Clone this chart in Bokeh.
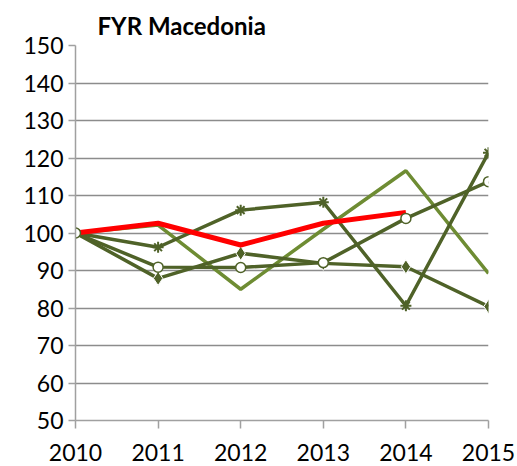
from bokeh.plotting import figure
from bokeh.embed import file_html
from bokeh.resources import INLINE
from bokeh.models import FixedTicker, Range1d

years = [2010, 2011, 2012, 2013, 2014, 2015]
red_years = [2010, 2011, 2012, 2013, 2014]
red_vals = [100, 102.6, 96.8, 102.6, 105.5]
asterisk_vals = [100, 96.2, 106.1, 108.2, 80.6, 121.4]
circle_vals = [100, 90.9, 90.8, 92.1, 103.9, 113.7]
diamond_vals = [100, 87.9, 94.6, 91.9, 91.0, 80.4]
plain_vals = [100, 102.1, 85.0, 101.0, 116.6, 89.2]
y_ticks = [50, 60, 70, 80, 90, 100, 110, 120, 130, 140, 150]

dark = "#4F6228"
light = "#6E8C33"
FONT = "Lato"

p = figure(width=517, height=466, output_backend="svg", toolbar_location=None,
           x_range=Range1d(2010, 2015), y_range=Range1d(50, 150),
           min_border_left=75, min_border_right=29, min_border_bottom=46, min_border_top=45)

p.title.text = "FYR Macedonia"
p.title.text_font = FONT
p.title.text_font_size = "24px"
p.title.text_font_style = "bold"
p.title.text_color = "black"
p.title.align = "left"
p.title.offset = 22
p.title.standoff = 12

p.outline_line_color = None
p.background_fill_color = "white"
p.xgrid.grid_line_color = None
p.ygrid.grid_line_color = "#8C8C8C"
p.ygrid.grid_line_width = 1.5

for ax in (p.xaxis[0], p.yaxis[0]):
    ax.axis_line_color = "#A0A0A0"
    ax.axis_line_width = 1.5
    ax.major_tick_line_color = "#A0A0A0"
    ax.major_tick_line_width = 1.5
    ax.minor_tick_line_color = None
    ax.major_tick_in = 0
    ax.major_label_text_font = FONT
    ax.major_label_text_font_size = "23px"
    ax.major_label_text_color = "black"

p.xaxis[0].ticker = FixedTicker(ticks=years)
p.xaxis[0].major_tick_out = 8
p.xaxis[0].major_label_standoff = 15
p.yaxis[0].ticker = FixedTicker(ticks=y_ticks)
p.yaxis[0].major_tick_out = 7
p.yaxis[0].major_label_standoff = 5

p.line(years, plain_vals, line_color=light, line_width=3.5)
p.line(years, diamond_vals, line_color=dark, line_width=3.5)
p.scatter(years, diamond_vals, marker="diamond", size=14, fill_color=dark, line_color="white", line_width=1)
p.line(years, asterisk_vals, line_color=dark, line_width=3.5)
p.scatter(years, asterisk_vals, marker="asterisk", size=11, line_color=dark, line_width=2)
p.line(years, circle_vals, line_color=dark, line_width=3.5)
p.line(red_years, red_vals, line_color="#FF0000", line_width=5)
p.scatter(years, circle_vals, marker="circle", size=10, fill_color="white", line_color=dark, line_width=1.5)

open("out.html", "w").write(file_html(p, INLINE))
